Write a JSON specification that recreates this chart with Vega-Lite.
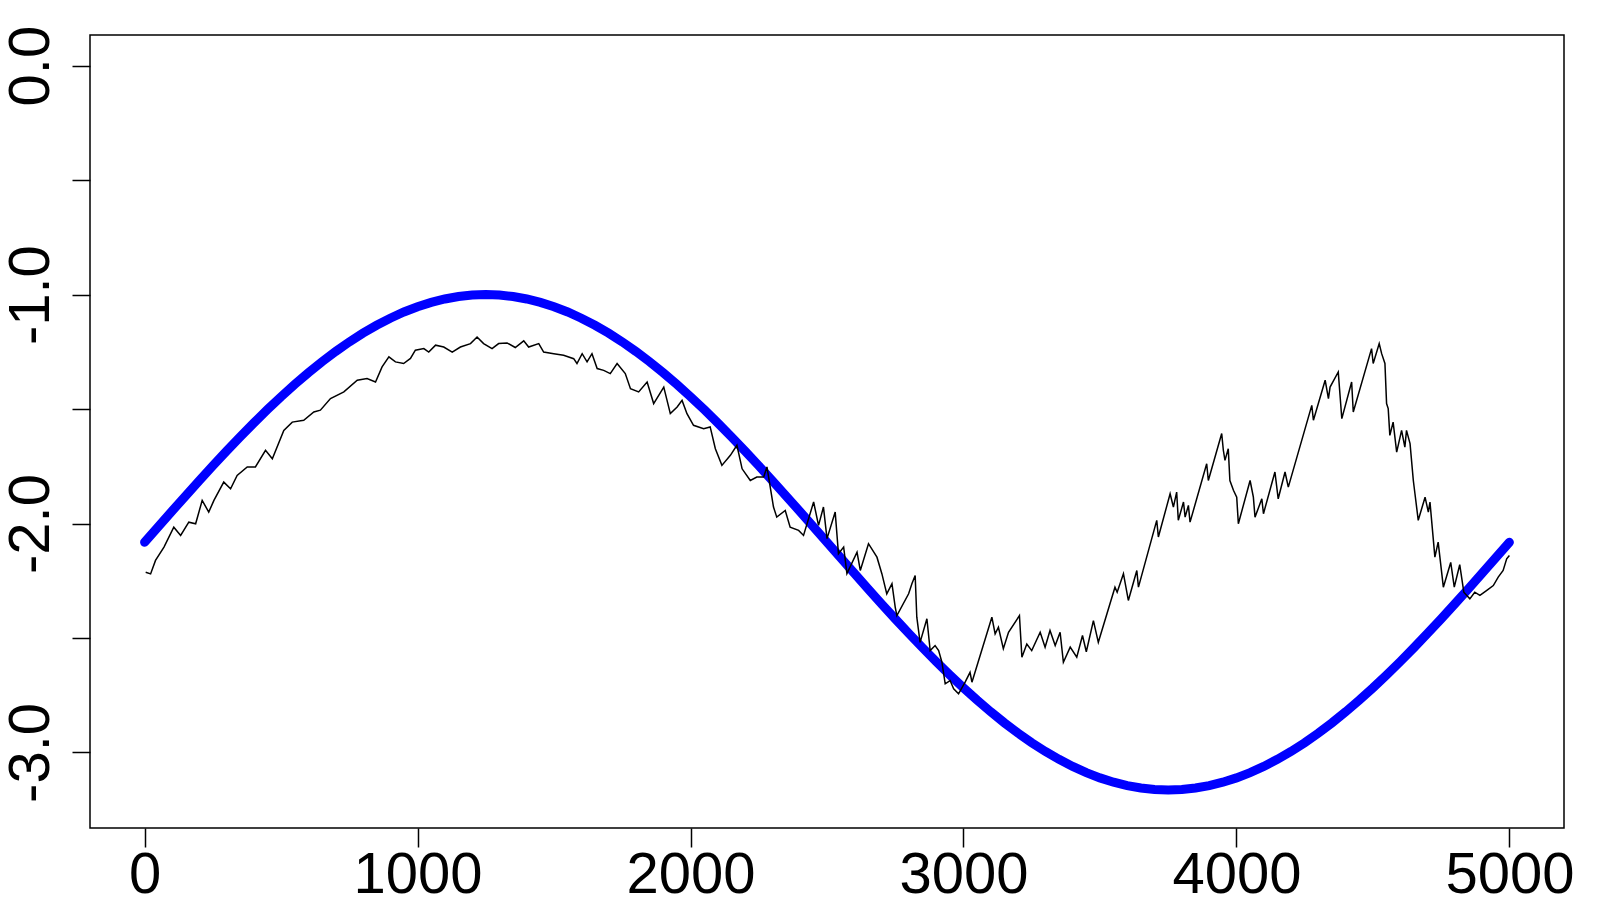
{
  "$schema": "https://vega.github.io/schema/vega-lite/v6.json",
  "width": 1474,
  "height": 793,
  "autosize": "none",
  "padding": {"left": 90, "top": 35, "right": 36, "bottom": 72},
  "background": "white",
  "config": {
    "view": {"stroke": "black", "strokeWidth": 1.5},
    "axis": {
      "grid": false,
      "domain": false,
      "title": null,
      "tickColor": "black",
      "tickWidth": 1.5,
      "labelFont": "Liberation Sans",
      "labelFontSize": 58,
      "labelColor": "black",
      "labelOverlap": false,
      "labelFlush": false
    }
  },
  "datasets": {
    "walk": [
      {"t": 4, "value": -2.213}, {"t": 22, "value": -2.22}, {"t": 40, "value": -2.161}, {"t": 71, "value": -2.103},
      {"t": 107, "value": -2.016}, {"t": 132, "value": -2.052}, {"t": 162, "value": -1.994}, {"t": 187, "value": -2.001},
      {"t": 211, "value": -1.899}, {"t": 235, "value": -1.95}, {"t": 254, "value": -1.899}, {"t": 290, "value": -1.819},
      {"t": 315, "value": -1.848}, {"t": 339, "value": -1.79}, {"t": 376, "value": -1.753}, {"t": 406, "value": -1.753},
      {"t": 443, "value": -1.68}, {"t": 468, "value": -1.717}, {"t": 510, "value": -1.593}, {"t": 541, "value": -1.557},
      {"t": 583, "value": -1.549}, {"t": 620, "value": -1.513}, {"t": 644, "value": -1.505}, {"t": 681, "value": -1.454},
      {"t": 730, "value": -1.425}, {"t": 779, "value": -1.374}, {"t": 815, "value": -1.367}, {"t": 846, "value": -1.382},
      {"t": 870, "value": -1.316}, {"t": 895, "value": -1.272}, {"t": 919, "value": -1.294}, {"t": 949, "value": -1.301},
      {"t": 974, "value": -1.279}, {"t": 992, "value": -1.243}, {"t": 1023, "value": -1.236}, {"t": 1041, "value": -1.251},
      {"t": 1066, "value": -1.221}, {"t": 1096, "value": -1.229}, {"t": 1127, "value": -1.251}, {"t": 1157, "value": -1.229},
      {"t": 1194, "value": -1.214}, {"t": 1218, "value": -1.185}, {"t": 1242, "value": -1.214}, {"t": 1273, "value": -1.236},
      {"t": 1297, "value": -1.214}, {"t": 1328, "value": -1.211}, {"t": 1358, "value": -1.231}, {"t": 1389, "value": -1.202},
      {"t": 1407, "value": -1.229}, {"t": 1444, "value": -1.214}, {"t": 1462, "value": -1.251}, {"t": 1499, "value": -1.258},
      {"t": 1535, "value": -1.265}, {"t": 1572, "value": -1.28}, {"t": 1584, "value": -1.301}, {"t": 1603, "value": -1.258},
      {"t": 1621, "value": -1.294}, {"t": 1639, "value": -1.258}, {"t": 1658, "value": -1.323}, {"t": 1682, "value": -1.331},
      {"t": 1706, "value": -1.345}, {"t": 1731, "value": -1.301}, {"t": 1761, "value": -1.345}, {"t": 1780, "value": -1.411},
      {"t": 1810, "value": -1.425}, {"t": 1841, "value": -1.382}, {"t": 1865, "value": -1.476}, {"t": 1902, "value": -1.404},
      {"t": 1926, "value": -1.52}, {"t": 1951, "value": -1.491}, {"t": 1969, "value": -1.462}, {"t": 1987, "value": -1.52},
      {"t": 2011, "value": -1.571}, {"t": 2048, "value": -1.586}, {"t": 2072, "value": -1.578}, {"t": 2091, "value": -1.673},
      {"t": 2115, "value": -1.746}, {"t": 2146, "value": -1.702}, {"t": 2170, "value": -1.658}, {"t": 2189, "value": -1.761},
      {"t": 2219, "value": -1.812}, {"t": 2243, "value": -1.797}, {"t": 2268, "value": -1.797}, {"t": 2280, "value": -1.753},
      {"t": 2304, "value": -1.928}, {"t": 2316, "value": -1.972}, {"t": 2347, "value": -1.943}, {"t": 2365, "value": -2.016},
      {"t": 2396, "value": -2.03}, {"t": 2414, "value": -2.052}, {"t": 2451, "value": -1.906}, {"t": 2469, "value": -2.008},
      {"t": 2487, "value": -1.928}, {"t": 2500, "value": -2.066}, {"t": 2530, "value": -1.95}, {"t": 2542, "value": -2.132},
      {"t": 2561, "value": -2.103}, {"t": 2573, "value": -2.219}, {"t": 2610, "value": -2.125}, {"t": 2622, "value": -2.205},
      {"t": 2652, "value": -2.088}, {"t": 2683, "value": -2.147}, {"t": 2701, "value": -2.219}, {"t": 2719, "value": -2.307},
      {"t": 2738, "value": -2.263}, {"t": 2750, "value": -2.366}, {"t": 2756, "value": -2.402}, {"t": 2799, "value": -2.307},
      {"t": 2811, "value": -2.263}, {"t": 2823, "value": -2.227}, {"t": 2829, "value": -2.409}, {"t": 2841, "value": -2.519},
      {"t": 2866, "value": -2.416}, {"t": 2878, "value": -2.555}, {"t": 2896, "value": -2.533}, {"t": 2909, "value": -2.555},
      {"t": 2921, "value": -2.606}, {"t": 2933, "value": -2.7}, {"t": 2951, "value": -2.686}, {"t": 2964, "value": -2.722},
      {"t": 2982, "value": -2.744}, {"t": 3006, "value": -2.693}, {"t": 3024, "value": -2.65}, {"t": 3031, "value": -2.693},
      {"t": 3104, "value": -2.409}, {"t": 3116, "value": -2.482}, {"t": 3128, "value": -2.453}, {"t": 3146, "value": -2.547},
      {"t": 3165, "value": -2.475}, {"t": 3205, "value": -2.402}, {"t": 3214, "value": -2.584}, {"t": 3232, "value": -2.526},
      {"t": 3250, "value": -2.555}, {"t": 3281, "value": -2.475}, {"t": 3299, "value": -2.54}, {"t": 3317, "value": -2.467},
      {"t": 3336, "value": -2.533}, {"t": 3354, "value": -2.475}, {"t": 3366, "value": -2.606}, {"t": 3391, "value": -2.54},
      {"t": 3415, "value": -2.584}, {"t": 3436, "value": -2.489}, {"t": 3450, "value": -2.56}, {"t": 3476, "value": -2.424},
      {"t": 3494, "value": -2.519}, {"t": 3555, "value": -2.278}, {"t": 3563, "value": -2.3}, {"t": 3586, "value": -2.219},
      {"t": 3604, "value": -2.336}, {"t": 3635, "value": -2.205}, {"t": 3641, "value": -2.278}, {"t": 3708, "value": -1.986},
      {"t": 3714, "value": -2.059}, {"t": 3757, "value": -1.87}, {"t": 3769, "value": -1.928}, {"t": 3781, "value": -1.863},
      {"t": 3787, "value": -1.986}, {"t": 3806, "value": -1.906}, {"t": 3812, "value": -1.972}, {"t": 3824, "value": -1.921},
      {"t": 3830, "value": -1.994}, {"t": 3891, "value": -1.739}, {"t": 3897, "value": -1.812}, {"t": 3946, "value": -1.607},
      {"t": 3952, "value": -1.68}, {"t": 3958, "value": -1.724}, {"t": 3970, "value": -1.673}, {"t": 3976, "value": -1.812},
      {"t": 3989, "value": -1.855}, {"t": 4001, "value": -1.885}, {"t": 4007, "value": -2.001}, {"t": 4050, "value": -1.812},
      {"t": 4062, "value": -1.885}, {"t": 4068, "value": -1.972}, {"t": 4093, "value": -1.892}, {"t": 4099, "value": -1.957},
      {"t": 4141, "value": -1.775}, {"t": 4153, "value": -1.892}, {"t": 4178, "value": -1.775}, {"t": 4190, "value": -1.841},
      {"t": 4276, "value": -1.484}, {"t": 4282, "value": -1.549}, {"t": 4325, "value": -1.374}, {"t": 4337, "value": -1.454},
      {"t": 4343, "value": -1.404}, {"t": 4373, "value": -1.338}, {"t": 4386, "value": -1.542}, {"t": 4422, "value": -1.382},
      {"t": 4428, "value": -1.513}, {"t": 4495, "value": -1.236}, {"t": 4501, "value": -1.301}, {"t": 4523, "value": -1.214},
      {"t": 4532, "value": -1.258}, {"t": 4544, "value": -1.301}, {"t": 4550, "value": -1.476}, {"t": 4556, "value": -1.498},
      {"t": 4562, "value": -1.615}, {"t": 4574, "value": -1.557}, {"t": 4587, "value": -1.688}, {"t": 4605, "value": -1.593},
      {"t": 4617, "value": -1.666}, {"t": 4623, "value": -1.593}, {"t": 4636, "value": -1.651}, {"t": 4648, "value": -1.812},
      {"t": 4654, "value": -1.87}, {"t": 4666, "value": -1.986}, {"t": 4691, "value": -1.885}, {"t": 4703, "value": -1.95},
      {"t": 4709, "value": -1.906}, {"t": 4727, "value": -2.147}, {"t": 4739, "value": -2.081}, {"t": 4758, "value": -2.278},
      {"t": 4785, "value": -2.17}, {"t": 4798, "value": -2.278}, {"t": 4818, "value": -2.18}, {"t": 4833, "value": -2.3},
      {"t": 4855, "value": -2.329}, {"t": 4873, "value": -2.3}, {"t": 4892, "value": -2.314}, {"t": 4916, "value": -2.293},
      {"t": 4941, "value": -2.271}, {"t": 4959, "value": -2.234}, {"t": 4977, "value": -2.205}, {"t": 4990, "value": -2.154},
      {"t": 5000, "value": -2.14}
    ],
    "curve": [
      {"t": 0, "value": -2.082}, {"t": 50, "value": -2.0141}, {"t": 100, "value": -1.9464}, {"t": 150, "value": -1.8793},
      {"t": 200, "value": -1.8129}, {"t": 250, "value": -1.7476}, {"t": 300, "value": -1.6837}, {"t": 350, "value": -1.6213},
      {"t": 400, "value": -1.5608}, {"t": 450, "value": -1.5022}, {"t": 500, "value": -1.446}, {"t": 550, "value": -1.3923},
      {"t": 600, "value": -1.3413}, {"t": 650, "value": -1.2933}, {"t": 700, "value": -1.2483}, {"t": 750, "value": -1.2066},
      {"t": 800, "value": -1.1684}, {"t": 850, "value": -1.1338}, {"t": 900, "value": -1.103}, {"t": 950, "value": -1.076},
      {"t": 1000, "value": -1.053}, {"t": 1050, "value": -1.034}, {"t": 1100, "value": -1.0192}, {"t": 1150, "value": -1.0085},
      {"t": 1200, "value": -1.0021}, {"t": 1250, "value": -1.0}, {"t": 1300, "value": -1.0021}, {"t": 1350, "value": -1.0085},
      {"t": 1400, "value": -1.0192}, {"t": 1450, "value": -1.034}, {"t": 1500, "value": -1.053}, {"t": 1550, "value": -1.076},
      {"t": 1600, "value": -1.103}, {"t": 1650, "value": -1.1338}, {"t": 1700, "value": -1.1684}, {"t": 1750, "value": -1.2066},
      {"t": 1800, "value": -1.2483}, {"t": 1850, "value": -1.2933}, {"t": 1900, "value": -1.3413}, {"t": 1950, "value": -1.3923},
      {"t": 2000, "value": -1.446}, {"t": 2050, "value": -1.5022}, {"t": 2100, "value": -1.5608}, {"t": 2150, "value": -1.6213},
      {"t": 2200, "value": -1.6837}, {"t": 2250, "value": -1.7476}, {"t": 2300, "value": -1.8129}, {"t": 2350, "value": -1.8793},
      {"t": 2400, "value": -1.9464}, {"t": 2450, "value": -2.0141}, {"t": 2500, "value": -2.082}, {"t": 2550, "value": -2.1499},
      {"t": 2600, "value": -2.2176}, {"t": 2650, "value": -2.2848}, {"t": 2700, "value": -2.3511}, {"t": 2750, "value": -2.4164},
      {"t": 2800, "value": -2.4803}, {"t": 2850, "value": -2.5427}, {"t": 2900, "value": -2.6033}, {"t": 2950, "value": -2.6618},
      {"t": 3000, "value": -2.718}, {"t": 3050, "value": -2.7717}, {"t": 3100, "value": -2.8227}, {"t": 3150, "value": -2.8708},
      {"t": 3200, "value": -2.9157}, {"t": 3250, "value": -2.9574}, {"t": 3300, "value": -2.9956}, {"t": 3350, "value": -3.0302},
      {"t": 3400, "value": -3.061}, {"t": 3450, "value": -3.088}, {"t": 3500, "value": -3.1111}, {"t": 3550, "value": -3.13},
      {"t": 3600, "value": -3.1448}, {"t": 3650, "value": -3.1555}, {"t": 3700, "value": -3.1619}, {"t": 3750, "value": -3.164},
      {"t": 3800, "value": -3.1619}, {"t": 3850, "value": -3.1555}, {"t": 3900, "value": -3.1448}, {"t": 3950, "value": -3.13},
      {"t": 4000, "value": -3.1111}, {"t": 4050, "value": -3.088}, {"t": 4100, "value": -3.061}, {"t": 4150, "value": -3.0302},
      {"t": 4200, "value": -2.9956}, {"t": 4250, "value": -2.9574}, {"t": 4300, "value": -2.9157}, {"t": 4350, "value": -2.8708},
      {"t": 4400, "value": -2.8227}, {"t": 4450, "value": -2.7717}, {"t": 4500, "value": -2.718}, {"t": 4550, "value": -2.6618},
      {"t": 4600, "value": -2.6033}, {"t": 4650, "value": -2.5427}, {"t": 4700, "value": -2.4803}, {"t": 4750, "value": -2.4164},
      {"t": 4800, "value": -2.3511}, {"t": 4850, "value": -2.2848}, {"t": 4900, "value": -2.2176}, {"t": 4950, "value": -2.1499},
      {"t": 5000, "value": -2.082}
    ]
  },
  "encoding": {
    "x": {
      "field": "t",
      "type": "quantitative",
      "scale": {"domain": [-200, 5200], "nice": false, "zero": false},
      "axis": {
        "values": [0, 1000, 2000, 3000, 4000, 5000],
        "format": "d",
        "tickSize": 19,
        "labelBaseline": "alphabetic",
        "labelPadding": 45
      }
    },
    "y": {
      "field": "value",
      "type": "quantitative",
      "scale": {"domain": [-3.33, 0.134], "nice": false, "zero": false},
      "axis": {
        "values": [0, -0.5, -1, -1.5, -2, -2.5, -3],
        "labelExpr": "datum.value % 1 == 0 ? replace(format(datum.value, '.1f'), '\u2212', '-') : ''",
        "tickSize": 18,
        "labelAngle": -90,
        "labelAlign": "center",
        "labelBaseline": "alphabetic",
        "labelPadding": 24
      }
    }
  },
  "layer": [
    {
      "data": {"name": "curve"},
      "mark": {"type": "line", "color": "#0000ff", "strokeWidth": 9, "strokeCap": "round", "clip": true}
    },
    {
      "data": {"name": "walk"},
      "mark": {"type": "line", "color": "black", "strokeWidth": 1.5, "clip": true}
    }
  ]
}
